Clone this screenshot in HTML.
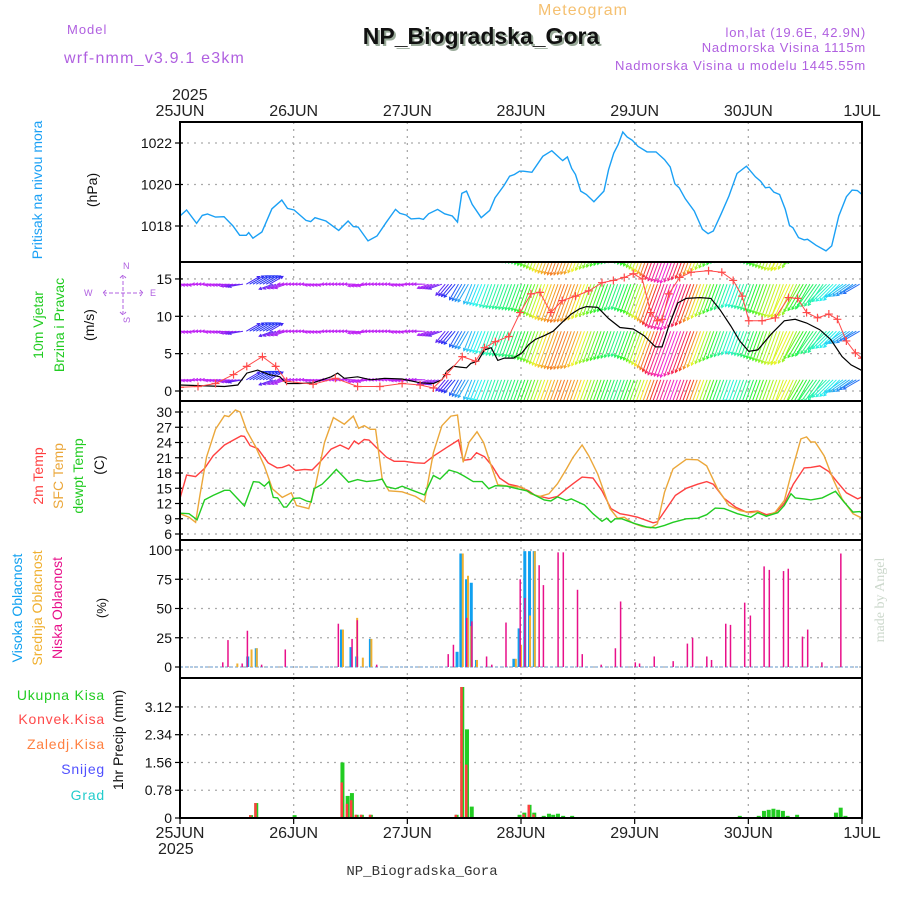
<!DOCTYPE html>
<html><head><meta charset="utf-8"><style>
body{margin:0;background:#fff;}
svg{display:block;font-family:"Liberation Sans",sans-serif;}
</style></head><body>
<svg id="c" width="900" height="900" xmlns="http://www.w3.org/2000/svg">
<text x="583" y="15" font-size="16" fill="#f5c070" text-anchor="middle" letter-spacing="1">Meteogram</text>
<text x="481" y="44" font-size="23" font-weight="bold" fill="#9a9" text-anchor="middle" transform="translate(2,2)">NP_Biogradska_Gora</text>
<text x="481" y="44" font-size="23" font-weight="bold" fill="#111" text-anchor="middle">NP_Biogradska_Gora</text>
<text x="67" y="34" font-size="13" fill="#b060e0" letter-spacing="1">Model</text>
<text x="64" y="63" font-size="16" fill="#b060e0" letter-spacing="1.2">wrf-nmm_v3.9.1 e3km</text>
<text x="866" y="37" font-size="13" fill="#b060e0" text-anchor="end" letter-spacing="0.8">lon,lat (19.6E, 42.9N)</text>
<text x="866" y="52" font-size="13" fill="#b060e0" text-anchor="end" letter-spacing="0.8">Nadmorska Visina 1115m</text>
<text x="866" y="70" font-size="13" fill="#b060e0" text-anchor="end" letter-spacing="0.8">Nadmorska Visina u modelu 1445.55m</text>
<text x="172" y="100" font-size="16" fill="#222">2025</text>
<text x="158" y="854" font-size="16" fill="#222">2025</text>
<text x="422" y="875" font-size="14" fill="#333" text-anchor="middle" font-family="Liberation Mono, monospace">NP_Biogradska_Gora</text>
<text transform="translate(884,600) rotate(-90)" font-size="14" fill="#ccd8cc" text-anchor="middle" font-family="Liberation Serif, serif">made by Angel</text>
<g id="labels"></g>
<g id="plots"></g>
</svg>
<script>
// ---------------- DATA ----------------
const days = ["25JUN","26JUN","27JUN","28JUN","29JUN","30JUN","1JUL"];
const pressTicks = [1018,1020,1022];
const windTicks = [0,5,10,15];
const tempTicks = [6,9,12,15,18,21,24,27,30];
const cloudTicks = [0,25,50,75,100];
const precipTicks = [0.78,1.56,2.34,3.12];

const pressure = [[0,1018.48],[1.4,1018.77],[3.5,1018.13],[4.7,1018.51],[5.8,1018.58],[7.5,1018.43],[9.3,1018.45],[11.2,1018.0],[12.6,1017.55],[14,1017.55],[14.5,1017.68],[15.4,1017.41],[17.3,1017.71],[19.4,1018.83],[21.5,1019.25],[22.7,1018.85],[24.1,1018.77],[26.6,1018.27],[27.6,1018.21],[28.5,1018.4],[30.8,1018.24],[33.5,1017.79],[35.5,1018.24],[36.6,1017.97],[37.6,1017.95],[39.7,1017.28],[41.6,1017.52],[43.5,1018.16],[45.5,1018.8],[46.4,1018.61],[47.7,1018.53],[48.8,1018.34],[50.5,1018.37],[51.4,1018.32],[52.5,1018.59],[54.4,1018.8],[55.9,1018.59],[57.5,1018.48],[58.6,1018.19],[59.5,1019.57],[60.5,1019.68],[61.7,1019.04],[63.6,1018.4],[65.4,1018.75],[66.5,1019.36],[68.4,1019.95],[69.6,1020.4],[70.6,1020.48],[71.7,1020.64],[72.5,1020.64],[74.3,1020.59],[76.6,1021.36],[78.5,1021.63],[80.4,1021.23],[80.8,1021.15],[81.8,1021.33],[82.7,1020.77],[83.5,1020.48],[84.6,1019.68],[85.8,1019.52],[87.4,1019.17],[89.5,1019.68],[90.5,1020.72],[91.6,1021.52],[92.5,1021.92],[93.5,1022.53],[94.4,1022.29],[95.5,1022.13],[96.7,1021.84],[98.6,1021.57],[100.5,1021.57],[102.3,1021.2],[103.5,1020.85],[104.5,1020.03],[105.4,1019.84],[106.7,1019.31],[108.6,1018.72],[110.3,1017.84],[111.5,1017.63],[112.6,1017.76],[114.2,1018.56],[115.9,1019.44],[117.6,1020.53],[119.6,1020.88],[121.5,1020.37],[122.6,1020.16],[123.6,1019.84],[124.5,1019.87],[125.4,1019.63],[126.6,1019.52],[127.8,1018.8],[128.7,1018.03],[129.4,1017.92],[130.6,1017.44],[131.8,1017.33],[132.5,1017.36],[134.3,1017.07],[136.4,1016.8],[137.6,1017.04],[139.1,1018.48],[140.7,1019.41],[141.9,1019.73],[143,1019.71],[144,1019.52]];

const temp2m = [[0,13.0],[1.4,17.6],[3.3,17.3],[5.2,18.9],[7,21.4],[9.4,23.5],[11.3,24.5],[12.9,25.3],[13.6,25.2],[14.8,23.4],[16.4,22.8],[18.6,20.0],[20.5,19.0],[21.6,19.1],[23,19.6],[24.4,18.5],[26.3,18.7],[27.9,18.6],[29.5,20.1],[31.9,22.7],[33.8,23.5],[35.6,22.7],[36.8,24.3],[37.7,23.7],[38.9,24.6],[39.9,24.5],[41.7,22.8],[43.6,21.1],[45.2,20.3],[47.4,20.3],[49.7,20.0],[51.6,19.9],[53.5,21.3],[56.3,23.0],[58.8,24.5],[59.8,20.5],[61.4,20.7],[62.6,22.0],[64.3,21.2],[65.9,19.4],[67.5,17.0],[69.4,15.8],[71.3,15.4],[73.6,14.5],[75,13.6],[77.9,13.0],[79.7,13.4],[81.6,14.9],[83,15.9],[84.9,17.2],[87.2,17.0],[89.1,14.5],[91,11.0],[92.9,10.0],[94.7,9.7],[96.6,9.3],[99.9,8.2],[100.8,8.4],[102.7,11.0],[104.6,13.6],[106.9,15.0],[109.3,15.8],[111.2,16.3],[112.6,15.8],[114.9,13.0],[117.3,11.3],[119.6,10.3],[122,10.5],[123.8,9.8],[125.7,10.2],[127.6,12.0],[129.5,15.8],[131.8,19.0],[133.2,19.1],[135.1,19.4],[137,18.3],[138.8,16.2],[140.7,14.1],[143.1,12.9],[144,13.3]];

const tempSfc = [[0,10.0],[1.9,9.3],[3.3,8.3],[4.2,13.6],[5.6,21.1],[7.5,26.6],[9.4,29.3],[10.3,29.1],[11.7,30.4],[12.7,30.0],[14.1,26.3],[15.9,23.3],[17.8,19.4],[19.5,14.9],[21.6,13.2],[23.5,14.1],[24.6,11.6],[27.2,11.0],[28.6,15.5],[30.5,24.0],[32.4,28.9],[34.7,27.6],[36.6,29.2],[37.7,26.8],[38.9,27.3],[40.2,26.6],[41.3,26.6],[42.7,16.8],[44.1,14.5],[46.9,14.3],[49.7,13.4],[51.6,12.3],[53.5,22.0],[55.3,27.3],[57.2,29.2],[58.6,29.4],[59.8,20.1],[61,24.0],[62.7,26.1],[64.1,24.0],[65.7,19.4],[67.1,15.7],[69.4,15.4],[72.2,15.2],[74.1,13.9],[76,13.4],[77.9,13.9],[79.7,15.9],[81.6,18.8],[83,21.1],[84.9,23.5],[86.3,21.4],[88.2,17.8],[90.8,11.0],[92.4,9.1],[93.8,9.3],[95.7,8.1],[97.6,7.5],[99.4,7.2],[100.8,8.0],[102.3,14.2],[104.1,18.8],[106.9,20.7],[109.3,20.6],[111.2,19.4],[113.5,14.9],[115.9,11.6],[118.2,10.6],[120.5,10.2],[122,10.4],[123.8,9.5],[125.7,10.3],[127.6,12.6],[129.5,19.4],[131.1,24.7],[132.3,25.1],[133.2,24.1],[134.1,24.1],[136,21.4],[137.9,16.8],[139.8,12.9],[142.1,10.0],[144,9.1]];

const tempDew = [[0,10.1],[1.9,10.0],[3.6,8.8],[5.2,12.7],[7,13.6],[9.4,14.6],[10.5,14.6],[12.2,12.9],[13.6,11.5],[15.5,16.3],[16.7,16.2],[17.8,15.4],[18.8,16.3],[19.7,13.2],[20.6,13.1],[21.9,11.3],[22.5,11.3],[23.9,13.0],[25.3,13.1],[26.7,12.5],[27.7,12.3],[28.3,14.9],[30,15.8],[31.4,17.1],[33,18.7],[34.7,17.1],[35.6,16.2],[37.5,16.7],[39.4,16.3],[41.3,16.5],[42.7,16.8],[43.6,15.3],[45.5,14.9],[46.9,15.4],[48.8,14.7],[51.6,13.7],[53.5,17.5],[54.9,16.8],[56.8,18.6],[58.6,18.1],[60,17.4],[61.9,16.3],[63.8,16.3],[65.2,14.9],[66.6,15.5],[69,15.4],[71.3,14.9],[73.2,14.5],[75,13.6],[76.9,12.7],[78.3,12.5],[79.7,13.3],[81.6,12.6],[82.6,12.9],[85.4,11.7],[87.2,10.0],[89.1,8.5],[90.1,9.1],[91,8.3],[91.9,9.0],[93.3,9.0],[94.7,8.5],[96.2,8.0],[98.5,7.4],[100.4,7.2],[102.3,7.7],[104.1,8.3],[106.9,9.0],[109.3,9.1],[111.2,9.8],[113,11.1],[114.9,11.0],[117.7,10.0],[120.5,9.3],[122,10.2],[123.8,9.5],[126.2,10.2],[127.6,11.6],[129,13.9],[129.9,13.1],[131.8,12.9],[133.2,12.7],[135.6,13.1],[138.4,14.4],[140.2,12.3],[142.1,10.3],[143.5,10.4],[144,10.2]];

const windSpeed = [[0,0.8],[9.4,0.6],[12.2,0.8],[14.1,2.4],[16.4,2.8],[18.8,2.2],[21.1,1.9],[22.5,1.0],[25.3,1.0],[28.1,1.1],[31.9,1.9],[33.3,2.4],[34.7,1.7],[37.5,1.9],[40.3,1.5],[43.2,1.7],[46.9,1.6],[50.7,1.1],[53.5,1.0],[55.3,1.5],[56.3,2.6],[57.7,3.3],[59.1,3.2],[60.5,3.1],[61.4,3.7],[62.9,4.0],[64.3,5.5],[65.7,5.8],[67.1,4.1],[68.5,4.4],[70.4,4.4],[72.2,5.1],[73.6,6.2],[75,6.9],[76.9,7.4],[78.8,8.0],[80.7,9.2],[82.6,10.3],[84.4,11.0],[85.8,11.3],[88.2,11.2],[90.5,9.7],[92.9,8.5],[95.7,8.3],[98,7.4],[100.4,5.9],[101.8,5.9],[103.2,8.7],[105.1,11.8],[106.9,12.4],[109.8,12.5],[112.1,12.4],[114,10.9],[116.3,8.7],[118.2,6.7],[120.1,5.3],[122,5.5],[124.8,7.6],[127.6,9.4],[129.9,9.6],[132.3,9.1],[135.1,8.2],[137.4,6.9],[139.8,4.6],[141.7,3.5],[143.5,2.9],[144,2.7]];

const windGust = [[0,0.5],[3.8,0.6],[7.5,1.0],[11.3,2.2],[14.1,3.3],[17.4,4.6],[20.2,3.3],[22.5,1.3],[28.1,0.9],[32.8,1.7],[37.5,0.6],[42.2,0.6],[46.9,1.0],[50.7,0.8],[53.5,0.4],[56.3,2.2],[59.6,4.6],[62.4,4.0],[64.3,5.8],[66.6,6.6],[69.4,7.3],[71.8,10.5],[74.1,13.0],[76,13.2],[78.3,10.5],[80.7,12.1],[83.5,12.7],[86.3,13.4],[89.1,14.5],[91.5,14.8],[93.8,15.2],[95.7,15.7],[97.6,15.0],[99.4,10.5],[100.8,9.4],[101.8,9.6],[103.2,13.0],[105.5,15.2],[107.9,15.9],[111.6,16.1],[114.4,15.9],[116.8,14.8],[118.7,12.7],[120.1,9.4],[122.9,9.4],[125.7,9.8],[128.5,12.5],[130.4,12.4],[132.3,10.5],[134.6,9.8],[137,10.3],[138.8,9.6],[140.7,6.7],[142.6,5.1],[144,4.4]];

// barbs: 3-hourly, hour 0..144
const barbSpeed = [1.5,1.5,1.5,1.5,2,3.5,3.5,2,1.5,1.5,1.5,1.5,1.5,1.5,1.5,1.5,1.5,1.5,2,3,4.5,5.5,6.5,7,7.5,9,11,12,11.5,9.5,8,7,8.5,11,14,15,13,10,7.5,6,7,8.5,10,10.5,8,7,6,5,4];
const barbDir = [185,185,180,185,190,30,30,200,180,180,185,180,180,190,180,180,185,180,200,230,240,248,250,250,250,250,250,250,250,250,250,250,250,250,250,250,250,250,250,250,250,250,250,245,240,235,225,215,210];
const barbRows = [1.5,8,14.3,20.6];

const cloudLowH = [9,10.1,13.1,14.2,17.2,22.2,33.4,36.3,37.4,41.5,56.6,57.7,60.5,61.6,64.7,65.8,68.8,71.8,72.8,75.8,76.7,79.8,80.9,83.9,84.9,88.9,91.9,93,96.1,97,100.1,104.1,107.1,108.2,111.2,112.2,115.2,116.2,119.2,120.4,123.3,124.4,127.4,128.4,131.4,132.5,135.5,139.5];
const cloudLow = [4,23,3,31,2,15,37,24,40,2,11,19,42,39,9,2,38,75,59,87,70,98,98,66,11,2,16,56,4,3,9,5,20,25,9,6,37,36,55,44,86,83,82,84,26,32,4,97];
const cloudMidH = [12,15,16.1,34.3,37.3,38.5,40.3,59.6,60.7,61.4,62.6,70.8,71.9,73.8,74.8];
const cloudMid = [3,15,16,32,42,8,24,97,78,35,6,7,19,44,99];
const cloudHighH = [14.3,16.1,34.1,36.1,37.3,40.2,58.5,59.3,60.5,61.5,62.6,70.5,71.6,72.8,73.8,74.8];
const cloudHigh = [9,16,32,17,9,24,13,97,75,72,6,7,33,99,99,99];

const precipH = [15,16.1,24.2,34.3,35.4,36.3,37.3,38.4,40.3,58.4,59.6,60.6,61.6,71.7,72.7,73.8,74.8,76.8,77.9,78.8,79.8,80.9,82.8,118.2,122.2,123.3,124.3,125.3,126.3,127.3,128.3,130.3,138.5,139.5,140.5];
const precipTotal = [0.08,0.42,0.08,1.56,0.62,0.70,0.09,0.09,0.09,0.09,3.68,2.49,0.32,0.09,0.15,0.37,0.15,0.06,0.12,0.09,0.12,0.06,0.06,0.06,0.06,0.2,0.23,0.26,0.23,0.2,0.06,0.09,0.15,0.29,0.06];
const precipConv = [0.08,0.42,0,1.0,0.4,0.5,0.09,0.09,0.09,0.09,3.68,1.5,0,0,0.1,0.37,0.1,0,0,0,0,0,0,0,0,0,0,0,0,0,0,0,0,0,0];

// ---------------- DRAW ----------------
const NS="http://www.w3.org/2000/svg";
const X0=180,X1=862,HOURS=144;
const xs=h=>X0+h*(X1-X0)/HOURS;
const P={p:[122,262],w:[262,401],t:[401,540],c:[540,678],r:[678,818]};
const yP=v=>226-(v-1018)*20.75;
const yW=v=>391-v*7.47;
const yT=v=>534-(v-6)*5.083;
const yC=v=>667-v*1.17;
const yR=v=>818-v*35.6;
const plots=document.getElementById('plots');
const labels=document.getElementById('labels');
function el(tag,attrs,parent){const e=document.createElementNS(NS,tag);for(const k in attrs)e.setAttribute(k,attrs[k]);(parent||plots).appendChild(e);return e;}
function txt(s,x,y,attrs,parent){const e=el('text',Object.assign({x:x,y:y},attrs),parent);e.textContent=s;return e;}

const defs=el('defs',{});
for(const k in P){const cp=el('clipPath',{id:'clip-'+k},defs);el('rect',{x:X0,y:P[k][0],width:X1-X0,height:P[k][1]-P[k][0]},cp);}

function grid(key,ticks,yf,fmt,name){
  const g=el('g',{});
  
  
  for(let d=1;d<days.length-1;d++){el('line',{x1:xs(d*24),x2:xs(d*24),y1:P[key][0],y2:P[key][1],stroke:'#aaa','stroke-width':1.3,'stroke-dasharray':'2,5'},g);}
  ticks.forEach(t=>{
    const y=yf(t);
    el('line',{x1:X0,x2:X1,y1:y,y2:y,stroke:'#aaa','stroke-width':1.3,'stroke-dasharray':'2,5'},g);
    el('line',{x1:X0-5,x2:X0+3,y1:y,y2:y,stroke:'#000','stroke-width':1.2},g);
    const t2=txt(fmt(t),X0-8,y+5,{'font-size':14,'text-anchor':'end',fill:'#111'},g);
    
    
  });
}
grid('p',pressTicks,yP,String,'pressure');
grid('w',windTicks,yW,String,'wind');
grid('t',tempTicks,yT,String,'temp');
grid('c',cloudTicks,yC,String,'cloud');
grid('r',[0].concat(precipTicks),yR,v=>v===0?'0':v.toFixed(2),'precip');

function line(data,yf,color,key,name,w){
  const d=data.map((p,i)=>(i?'L':'M')+xs(p[0]).toFixed(1)+','+yf(p[1]).toFixed(1)).join('');
  const e=el('path',{d:d,fill:'none',stroke:color,'stroke-width':w||1.4,'clip-path':'url(#clip-'+key+')'});
  
  
  return e;
}
line(pressure,yP,'#1aa0f5','p','pressure-line');

function hueFor(s){const f=Math.min(1,Math.max(0,(s-1.5)/13.5));return (285-f*335+360)%360;}
const bg=el('g',{'clip-path':'url(#clip-w)'});


for(let h=0;h<=144;h+=0.7){
  const i=Math.min(47,Math.floor(h/3)),f=h/3-i;
  const s=barbSpeed[i]*(1-f)+barbSpeed[i+1]*f;
  const dir=barbDir[f<0.5?i:i+1];
  const L=7+s*2.8, a=dir*Math.PI/180;
  const col='hsl('+hueFor(s)+',90%,55%)';
  barbRows.forEach(r=>{
    const x=xs(h),y=yW(r);
    const x2=x+Math.cos(a)*L,y2=y-Math.sin(a)*L;
    el('line',{x1:x,y1:y,x2:x2,y2:y2,stroke:col,'stroke-width':1},bg);
    const ah=3,b1=a+Math.PI-0.5,b2=a+Math.PI+0.5;
    el('path',{d:'M'+(x2+Math.cos(b1)*ah)+','+(y2-Math.sin(b1)*ah)+'L'+x2+','+y2+'L'+(x2+Math.cos(b2)*ah)+','+(y2-Math.sin(b2)*ah),fill:'none',stroke:col,'stroke-width':1},bg);
  });
}
line(windSpeed,yW,'#000','w','wind-speed-line',1.2);
line(windGust,yW,'#ff4a4a','w','wind-gust-line',1);
const gg=el('g',{'clip-path':'url(#clip-w)'});


windGust.forEach(p=>{const x=xs(p[0]),y=yW(p[1]);el('path',{d:'M'+(x-4)+','+y+'h8M'+x+','+(y-4)+'v8',stroke:'#ff4a4a','stroke-width':1.2},gg);});

line(temp2m,yT,'#ff4040','t','temp-2m-line');
line(tempSfc,yT,'#eba73a','t','temp-sfc-line');
line(tempDew,yT,'#22cc22','t','dewpoint-line');

function bars(hs,vs,yf,base,color,dx,w,name,key){
  const g=el('g',{'clip-path':'url(#clip-'+key+')'});
  
  
  hs.forEach((h,i)=>{if(vs[i]<=0)return;const y=yf(vs[i]);el('rect',{x:xs(h)+dx,y:y,width:w,height:base-y,fill:color},g);});
}
el('line',{x1:X0,x2:X1,y1:667,y2:667,stroke:'#9bd',"stroke-width":1.5,'stroke-dasharray':'3,2'});
bars(cloudHighH,cloudHigh,yC,667,'#10a0f0',-1.5,3,'cloud-high-bars','c');
bars(cloudMidH,cloudMid,yC,667,'#f0b030',-0.5,2,'cloud-mid-bars','c');
bars(cloudLowH,cloudLow,yC,667,'#e8108a',-0.6,1.5,'cloud-low-bars','c');
bars(precipH,precipTotal,yR,818,'#22cc22',-2,4,'precip-total-bars','r');
bars(precipH,precipConv,yR,818,'#ff4040',-2,2.5,'precip-conv-bars','r');

for(const k in P){const f=el('rect',{x:X0,y:P[k][0],width:X1-X0,height:P[k][1]-P[k][0],fill:'none',stroke:'#000','stroke-width':2});

}
days.forEach((d,i)=>{
  const x=xs(i*24);
  const a=txt(d,x,116,{'font-size':16,'text-anchor':'middle',fill:'#222'});
  
  
  const b=txt(d,x,838,{'font-size':16,'text-anchor':'middle',fill:'#222'});
  
  
  el('line',{x1:x,x2:x,y1:818,y2:824,stroke:'#000','stroke-width':1.2});
});

function vlab(s,x,y,color,size,name){const e=txt(s,0,0,{transform:'translate('+x+','+y+') rotate(-90)','font-size':size||14,fill:color,'text-anchor':'middle'},labels);}
vlab('Pritisak na nivou mora',42,190,'#1aa0f5',14,'pressure-title');
vlab('(hPa)',97,190,'#111',14,'pressure-unit');
vlab('10m Vjetar',43,325,'#22cc22',14,'wind-title-1');
vlab('Brzina i Pravac',64,325,'#22cc22',14,'wind-title-2');
vlab('(m/s)',94,325,'#111',14,'wind-unit');
vlab('2m Temp',43,476,'#ff4040',14,'temp-2m-title');
vlab('SFC Temp',63,476,'#eba73a',14,'temp-sfc-title');
vlab('dewpt Temp',83,476,'#22cc22',14,'dewpoint-title');
vlab('(C)',104,465,'#111',14,'temp-unit');
vlab('Visoka Oblacnost',22,608,'#10a0f0',14,'cloud-high-title');
vlab('Srednja Oblacnost',42,608,'#f0b030',14,'cloud-mid-title');
vlab('Niska Oblacnost',62,608,'#e8108a',14,'cloud-low-title');
vlab('(%)',106,608,'#111',13,'cloud-unit');
vlab('1hr Precip (mm)',123,740,'#111',14,'precip-unit');
[['Ukupna  Kisa','#22cc22',700],['Konvek.Kisa','#ff4a4a',724],['Zaledj.Kisa','#ff8040',749],['Snijeg','#5050ff',774],['Grad','#22cccc',800]].forEach(r=>{
  const e=txt(r[0],105,r[2],{'font-size':14,fill:r[1],'text-anchor':'end','letter-spacing':0.8},labels);
  
  
});
const cg=el('g',{fill:'#b060e0','font-size':9},labels);


txt('N',123,269,{fill:'#b060e0'},cg);txt('W',84,296,{fill:'#b060e0'},cg);txt('E',150,296,{fill:'#b060e0'},cg);
txt('S',123,324,{fill:'#b060e0',transform:'rotate(-90 126 320)'},cg);
el('path',{d:'M103,293h40M123,275v40M106,290l-3,3l3,3M140,290l3,3l-3,3M120,278l3,-3l3,3M120,312l3,3l3,-3',stroke:'#b060e0','stroke-width':1,fill:'none','stroke-dasharray':'4,2'},cg);
</script>
</body></html>
